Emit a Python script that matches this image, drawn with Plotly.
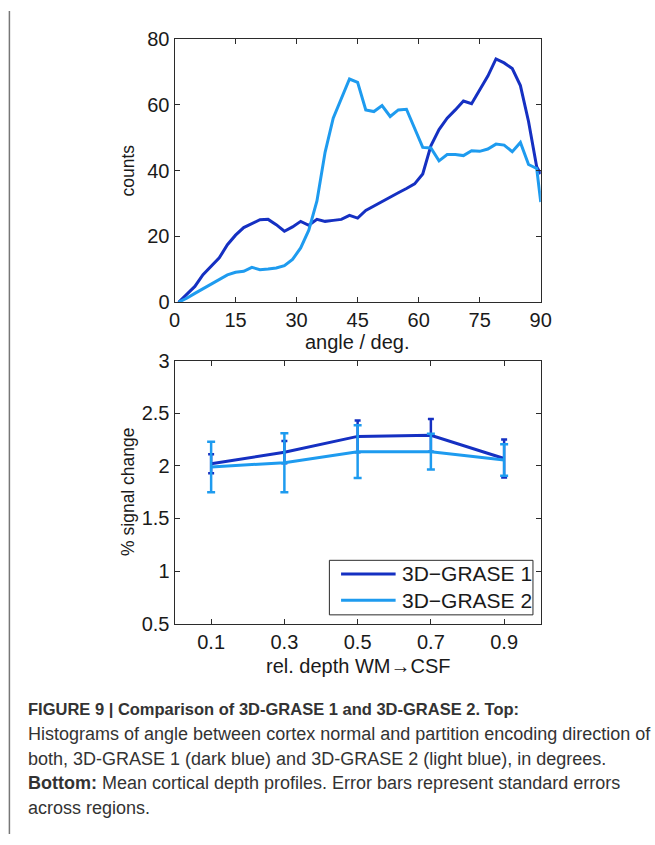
import plotly.graph_objects as go

W, H = 655, 845

# ---- data: top histogram ----
angle = [1, 3, 5, 7, 9, 11, 13, 15, 17, 19, 21, 23, 25, 27, 29, 31, 33, 35, 37, 39,
         41, 43, 45, 47, 49, 51, 53, 55, 57, 59, 61, 63, 65, 67, 69, 71, 73, 75, 77, 79,
         81, 83, 85, 87, 89, 90]
counts_g1 = [0, 2.4, 4.8, 8.4, 11, 13.5, 17.5, 20.4, 22.7, 23.9, 25.1, 25.2, 23.6, 21.6, 22.9,
             24.6, 23.4, 25.2, 24.6, 24.9, 25.2, 26.4, 25.6, 27.9, 29.3, 30.6, 32.1, 33.3, 34.6,
             36.0, 39.0, 47.6, 52.5, 56.0, 58.5, 61.2, 60.4, 64.4, 68.8, 74.0, 72.8, 71.1, 65.9,
             55.0, 41.2, 39.0]
counts_g2 = [0, 1.2, 2.7, 4.1, 5.3, 6.8, 8.3, 9.1, 9.4, 10.6, 9.9, 10.1, 10.4, 11.1, 13.0,
             16.5, 21.9, 30.8, 45.6, 56.0, 62.0, 67.9, 66.9, 58.5, 58.0, 59.8, 56.5, 58.5, 58.7,
             53.0, 47.1, 46.9, 43.0, 44.9, 44.9, 44.6, 46.1, 45.9, 46.6, 48.1, 47.8, 45.8, 48.6,
             41.9, 40.7, 30.5]

# ---- data: bottom depth profiles ----
depth = [0.1, 0.3, 0.5, 0.7, 0.9]
sig_g1 = [2.02, 2.13, 2.28, 2.29, 2.07]
err_g1 = [0.09, 0.105, 0.15, 0.155, 0.18]
sig_g2 = [1.99, 2.03, 2.135, 2.135, 2.055]
err_g2 = [0.24, 0.28, 0.25, 0.17, 0.15]

names = ["3D\u2212GRASE 1", "3D\u2212GRASE 2"]
DARK = "#1530c2"
LIGHT = "#1e9bef"
AX = "#2b2b2b"
FONT = "Liberation Sans, Arial, sans-serif"


def px(x):
    return x / W


def py(y):
    return 1 - y / H


fig = go.Figure()
fig.add_trace(go.Scatter(x=angle, y=counts_g1, mode="lines", line=dict(color=DARK, width=3),
                         xaxis="x", yaxis="y", showlegend=False))
fig.add_trace(go.Scatter(x=angle, y=counts_g2, mode="lines", line=dict(color=LIGHT, width=3),
                         xaxis="x", yaxis="y", showlegend=False))
fig.add_trace(go.Scatter(x=depth, y=sig_g1, mode="lines", line=dict(color=DARK, width=3),
                         error_y=dict(type="data", array=err_g1, color=DARK, thickness=2.5, width=3),
                         xaxis="x2", yaxis="y2", showlegend=False))
fig.add_trace(go.Scatter(x=depth, y=sig_g2, mode="lines", line=dict(color=LIGHT, width=3),
                         error_y=dict(type="data", array=err_g2, color=LIGHT, thickness=2.5, width=4),
                         xaxis="x2", yaxis="y2", showlegend=False))

axcommon = dict(showline=True, linecolor=AX, linewidth=1, mirror="ticks", ticks="inside",
                ticklen=5, tickcolor=AX, showgrid=False, zeroline=False,
                tickfont=dict(family=FONT, size=20, color="#1a1a1a"))

fig.update_layout(
    width=W, height=H,
    margin=dict(l=0, r=0, t=0, b=0),
    paper_bgcolor="white", plot_bgcolor="white",
    xaxis=dict(domain=[px(173), px(549)], range=[0, 90], tickvals=[0, 15, 30, 45, 60, 75, 90],
               anchor="y", **axcommon),
    yaxis=dict(domain=[py(299), py(29)], range=[0, 80], tickvals=[0, 20, 40, 60, 80],
               anchor="x", **axcommon),
    xaxis2=dict(domain=[px(173), px(549)], range=[0, 1], tickvals=depth,
                ticktext=["0.1", "0.3", "0.5", "0.7", "0.9"], anchor="y2", **axcommon),
    yaxis2=dict(domain=[py(629), py(359)], range=[0.5, 3], tickvals=[0.5, 1, 1.5, 2, 2.5, 3],
                ticktext=["0.5", "1", "1.5", "2", "2.5", "3"], anchor="x2", **axcommon),
)

ann = []
# axis titles
ann.append(dict(text="angle / deg.", x=px(361), y=py(340), xref="paper", yref="paper",
                showarrow=False, xanchor="center", yanchor="middle",
                font=dict(family=FONT, size=20, color="#1a1a1a")))
ann.append(dict(text="rel. depth WM\u2192CSF", x=px(361), y=py(672), xref="paper", yref="paper",
                showarrow=False, xanchor="center", yanchor="middle",
                font=dict(family=FONT, size=20, color="#1a1a1a")))
ann.append(dict(text="counts", x=px(125), y=py(164), xref="paper", yref="paper", textangle=-90,
                showarrow=False, xanchor="center", yanchor="middle",
                font=dict(family=FONT, size=17.5, color="#1a1a1a")))
ann.append(dict(text="% signal change", x=px(125), y=py(494), xref="paper", yref="paper",
                textangle=-90, showarrow=False, xanchor="center", yanchor="middle",
                font=dict(family=FONT, size=17.5, color="#1a1a1a")))

# legend (custom, MATLAB-style)
shapes = []
shapes.append(dict(type="rect", xref="paper", yref="paper", x0=px(332), x1=px(541),
                   y0=py(620), y1=py(564), line=dict(color=AX, width=1), fillcolor="white"))
for i, (nm, col) in enumerate(zip(names, [DARK, LIGHT])):
    yy = 578 + i * 27
    shapes.append(dict(type="line", xref="paper", yref="paper", x0=px(344), x1=px(400),
                       y0=py(yy), y1=py(yy), line=dict(color=col, width=3)))
    ann.append(dict(text=nm, x=px(405), y=py(yy), xref="paper", yref="paper", showarrow=False,
                    xanchor="left", yanchor="middle",
                    font=dict(family=FONT, size=21, color="#1a1a1a")))

# frame line on left
shapes.append(dict(type="line", xref="paper", yref="paper", x0=px(3.5), x1=px(3.5), y0=0, y1=1,
                   line=dict(color="#777777", width=1.5)))

# caption
cap = [
    "<b>FIGURE 9 | Comparison of 3D-GRASE 1 and 3D-GRASE 2. Top:</b>",
    "Histograms of angle between cortex normal and partition encoding direction of",
    "both, 3D-GRASE 1 (dark blue) and 3D-GRASE 2 (light blue), in degrees.",
    "<b>Bottom:</b> Mean cortical depth profiles. Error bars represent standard errors",
    "across regions.",
]
cap_y = [717, 742, 768, 793, 818]
cap_size = [16.5, 18, 18, 18, 18]
for t, yy, fs in zip(cap, cap_y, cap_size):
    ann.append(dict(text=t, x=px(21), y=py(yy), xref="paper", yref="paper", showarrow=False,
                    xanchor="left", yanchor="middle",
                    font=dict(family=FONT, size=fs, color="#333333")))

fig.update_layout(annotations=ann, shapes=shapes)
fig.write_html("out.html")
